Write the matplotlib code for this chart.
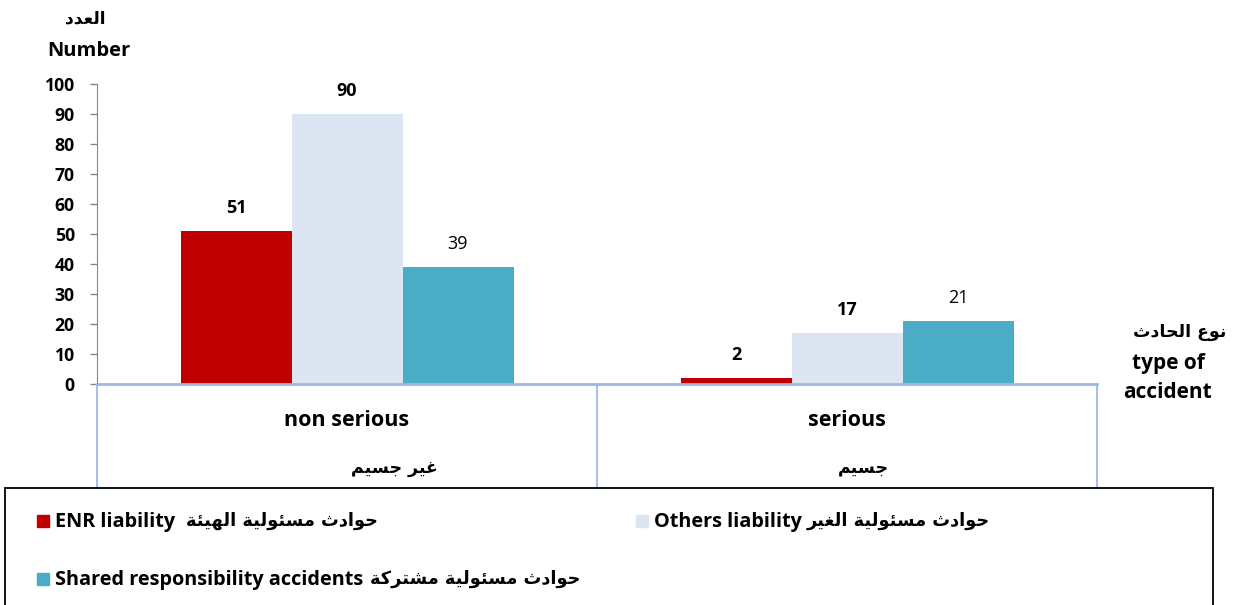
import matplotlib
matplotlib.use("Agg")
import matplotlib.pyplot as plt
from matplotlib.patches import Rectangle
import numpy as np

# Podaci
categories = ["non serious", "serious"]
categories_ar = ["غير جسيم", "جسيم"]
enr = [51, 2]        # ENR liability
others = [90, 17]    # Others liability
shared = [39, 21]    # Shared responsibility

series_names = ["ENR liability", "Others liability", "Shared responsibility accidents"]
series_ar = ["حوادث مسئولية الهيئة", "حوادث مسئولية الغير", "حوادث مسئولية مشتركة"]
colors = ["#C00000", "#DCE6F2", "#4BACC6"]

# Jednostavno oblikovanje arapskog teksta (prezentacijski oblici, vizualni poredak)
# slovo: (izolirano, završno, početno, srednje)
FORMS = {
    "ا": ("\uFE8D", "\uFE8E", None, None),
    "ة": ("\uFE93", "\uFE94", None, None),
    "ت": ("\uFE95", "\uFE96", "\uFE97", "\uFE98"),
    "ث": ("\uFE99", "\uFE9A", "\uFE9B", "\uFE9C"),
    "ج": ("\uFE9D", "\uFE9E", "\uFE9F", "\uFEA0"),
    "ح": ("\uFEA1", "\uFEA2", "\uFEA3", "\uFEA4"),
    "د": ("\uFEA9", "\uFEAA", None, None),
    "ر": ("\uFEAD", "\uFEAE", None, None),
    "س": ("\uFEB1", "\uFEB2", "\uFEB3", "\uFEB4"),
    "ش": ("\uFEB5", "\uFEB6", "\uFEB7", "\uFEB8"),
    "ع": ("\uFEC9", "\uFECA", "\uFECB", "\uFECC"),
    "غ": ("\uFECD", "\uFECE", "\uFECF", "\uFED0"),
    "ك": ("\uFED9", "\uFEDA", "\uFEDB", "\uFEDC"),
    "ل": ("\uFEDD", "\uFEDE", "\uFEDF", "\uFEE0"),
    "م": ("\uFEE1", "\uFEE2", "\uFEE3", "\uFEE4"),
    "ن": ("\uFEE5", "\uFEE6", "\uFEE7", "\uFEE8"),
    "ه": ("\uFEE9", "\uFEEA", "\uFEEB", "\uFEEC"),
    "و": ("\uFEED", "\uFEEE", None, None),
    "ي": ("\uFEF1", "\uFEF2", "\uFEF3", "\uFEF4"),
    "ئ": ("\uFE89", "\uFE8A", "\uFE8B", "\uFE8C"),
}


def shape(text):
    out = []
    for i, ch in enumerate(text):
        if ch not in FORMS:
            out.append(ch)
            continue
        prev = text[i - 1] if i > 0 else ""
        nxt = text[i + 1] if i + 1 < len(text) else ""
        jp = prev in FORMS and FORMS[prev][2] is not None
        jn = FORMS[ch][2] is not None and nxt in FORMS
        iso, fin, ini, med = FORMS[ch]
        if jp and jn:
            out.append(med)
        elif jp:
            out.append(fin)
        elif jn:
            out.append(ini)
        else:
            out.append(iso)
    return "".join(reversed(out))


plt.rcParams["font.family"] = ["Open Sans", "DejaVu Sans"]
AR = ["DejaVu Sans"]

W, H = 1238, 605
fig = plt.figure(figsize=(W / 100, H / 100), dpi=100)


def fx(px):
    return px / W


def fy(py):
    return 1 - py / H


ax = fig.add_axes([fx(97), fy(384), fx(1097) - fx(97), fy(84) - fy(384)])

x = np.arange(len(categories))
bw = 0.222
all_series = [enr, others, shared]
label_weights = ["bold", "bold", "normal"]
for k, vals in enumerate(all_series):
    pos = x + (k - 1) * bw
    ax.bar(pos, vals, bw, color=colors[k], zorder=2)
    for p, v in zip(pos, vals):
        ax.annotate(str(v), (p, v), xytext=(0, 16.5), textcoords="offset points",
                    ha="center", va="center", fontsize=13, fontweight=label_weights[k])

ax.set_xlim(-0.5, 1.5)
ax.set_ylim(0, 100)
ax.set_yticks(range(0, 101, 10))
ax.set_xticks([])
for lbl in ax.get_yticklabels():
    lbl.set_fontweight("bold")
ax.tick_params(axis="y", length=5, width=1, color="#868686", pad=11, labelsize=12.7)

for s in ["top", "right"]:
    ax.spines[s].set_visible(False)
ax.spines["left"].set_color("#868686")
ax.spines["bottom"].set_color("#9DB9E3")
ax.spines["bottom"].set_linewidth(2)

# Razdjelnici kategorija ispod osi
for xs in [-0.5, 0.5, 1.5]:
    ax.plot([xs, xs], [0, -34], color="#A8C0E6", lw=1.5, clip_on=False)

# Oznake kategorija
for i, en in enumerate(categories):
    ax.text(i, -12, en, ha="center", va="center", fontsize=15.5, fontweight="bold")
ax.text(0.095, -28, shape(categories_ar[0]), ha="center", va="center", fontsize=12.5,
        fontweight="bold", family=AR)
ax.text(1.033, -28, shape(categories_ar[1]), ha="center", va="center", fontsize=12.5,
        fontweight="bold", family=AR)

# Naslovi osi
fig.text(fx(85), fy(18), shape("العدد"), ha="center", va="center", fontsize=12.3,
         fontweight="bold", family=AR)
fig.text(fx(89), fy(51), "Number", ha="center", va="center", fontsize=14.5, fontweight="bold")
fig.text(fx(1180), fy(332), shape("نوع الحادث"), ha="center", va="center", fontsize=12.5,
         fontweight="bold", family=AR)
fig.text(fx(1168), fy(363), "type of", ha="center", va="center", fontsize=15, fontweight="bold")
fig.text(fx(1168), fy(393), "accident", ha="center", va="center", fontsize=15, fontweight="bold")

# Legenda
fig.add_artist(Rectangle((fx(5), fy(640)), fx(1213) - fx(5), fy(488) - fy(640),
                         transform=fig.transFigure, fill=False, edgecolor="black", lw=1.3))
leg_pos = [(37, 521), (636, 521), (37, 579)]
ar_right = [378, 990, 580]
for k in range(3):
    lx, ly = leg_pos[k]
    fig.add_artist(Rectangle((fx(lx), fy(ly + 6)), fx(12), 12 / H,
                             transform=fig.transFigure, color=colors[k]))
    fig.text(fx(lx + 18), fy(ly + 1), series_names[k], ha="left", va="center",
             fontsize=14.3, fontweight="bold")
    fig.text(fx(ar_right[k]), fy(ly), shape(series_ar[k]), ha="right", va="center",
             fontsize=12.8, fontweight="bold", family=AR)

fig.savefig("out.png", dpi=100)
